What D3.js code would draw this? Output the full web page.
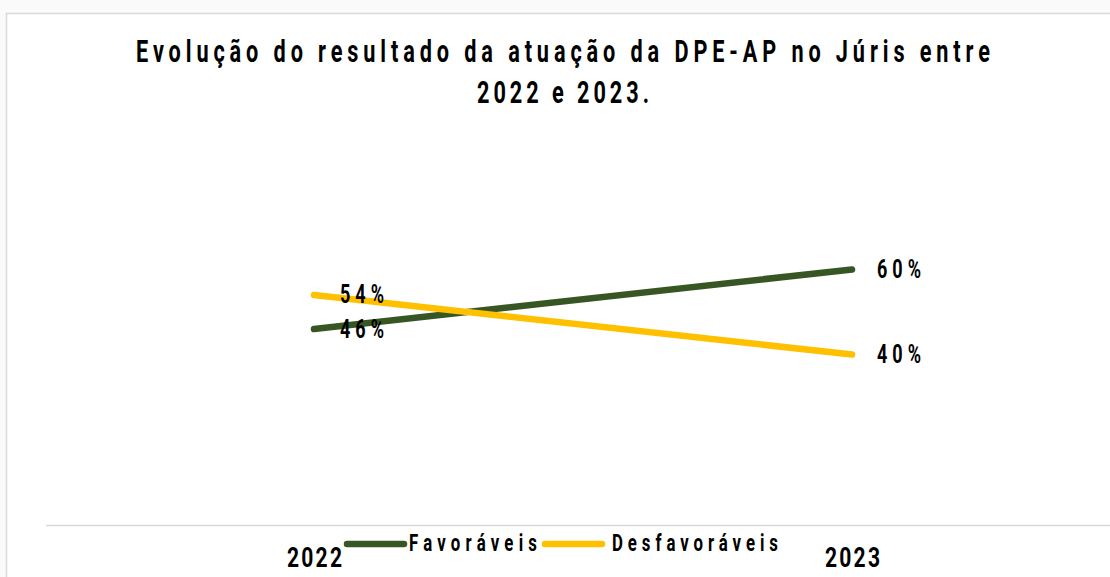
<!DOCTYPE html>
<html>
<head>
<meta charset="utf-8">
<script src="https://cdn.jsdelivr.net/npm/d3@7"></script>
<style>
  body { margin: 0; background: #fafafa; }
  svg { display: block; }
  text { font-family: Roboto, "DejaVu Sans", sans-serif; font-weight: bold; fill: #000; }
</style>
</head>
<body>
<svg id="chart" width="1110" height="577"></svg>
<script>
const years = ["2022", "2023"];
const favoraveis = [46, 60];
const desfavoraveis = [54, 40];
const seriesNames = ["Favoráveis", "Desfavoráveis"];
const colors = ["#375623", "#ffc000"];
const titleLines = ["Evolução do resultado da atuação da DPE-AP no Júris entre", "2022 e 2023."];

const width = 1110, height = 577;
const margin = {top: 99, right: 0, bottom: 52, left: 46};

// the original font is tall, narrow and widely spaced:
// squash glyphs horizontally and pick a letter spacing that gives the wanted width
function squeeze(sel, target, sx, centered) {
    sel.each(function(d, i) {
        const t = d3.select(this);
        const len = typeof target === "function" ? target(d, i) : target;
        const px = +t.attr("x") || 0, py = +t.attr("y") || 0;
        t.style("letter-spacing", "0px");
        const w0 = this.getComputedTextLength();
        const n = t.text().length;
        const ls = (len / sx - w0) / (n - 1);
        t.style("letter-spacing", ls + "px")
            .attr("x", centered ? ls / 2 : 0)
            .attr("y", null)
            .attr("transform", `translate(${px},${py}) scale(${sx},1)`);
    });
}

const svg = d3.select("#chart");

// chart area box
svg.append("rect")
    .attr("x", 6.5).attr("y", 13.5)
    .attr("width", width).attr("height", height)
    .attr("fill", "#fff")
    .attr("stroke", "#d9d9d9")
    .attr("stroke-width", 1.5);

const x = d3.scalePoint()
    .domain(years)
    .range([314, 852]);

const y = d3.scaleLinear()
    .domain([0, 100])
    .range([height - margin.bottom, margin.top]);

// title
svg.append("g")
    .selectAll("text")
    .data(titleLines)
    .join("text")
    .attr("x", 563)
    .attr("y", (d, i) => 62 + i * 41)
    .attr("text-anchor", "middle")
    .attr("font-size", 31)
    .text(d => d)
    .call(squeeze, (d, i) => i === 0 ? 854 : 172, 0.7, true);

// x axis
svg.append("line")
    .attr("x1", margin.left).attr("x2", width)
    .attr("y1", y(0) + 0.5).attr("y2", y(0) + 0.5)
    .attr("stroke", "#d9d9d9")
    .attr("stroke-width", 1.5);

svg.append("g")
    .attr("transform", `translate(0,${y(0)})`)
    .call(d3.axisBottom(x).tickSize(0))
    .call(g => g.select(".domain").remove())
    .call(g => g.selectAll(".tick text")
        .attr("font-size", 27)
        .attr("font-family", null)
        .attr("fill", "#000")
        .attr("dy", null)
        .attr("y", 567 - y(0))
        .call(squeeze, 55, 0.78, true));

const series = [favoraveis, desfavoraveis];

const line = d3.line()
    .x((d, i) => x(years[i]))
    .y(d => y(d));

svg.append("g")
    .selectAll("path")
    .data(series)
    .join("path")
    .attr("d", line)
    .attr("fill", "none")
    .attr("stroke", (d, i) => colors[i])
    .attr("stroke-width", 6.5)
    .attr("stroke-linecap", "round");

// data labels
const labels = [];
series.forEach((s, si) => s.forEach((v, i) => labels.push({v, i, si})));

svg.append("g")
    .selectAll("text")
    .data(labels)
    .join("text")
    .attr("x", d => x(years[d.i]) + (d.i === 0 ? 26 : 25))
    .attr("y", d => y(d.v) + 8.5)
    .attr("font-size", 25)
    .text(d => d.v + "%")
    .call(squeeze, 44, 0.72, false);

// legend
const legendX = [347, 545];
const legendTextLen = [128, 166];
const legend = svg.append("g")
    .selectAll("g")
    .data(seriesNames)
    .join("g")
    .attr("transform", (d, i) => `translate(${legendX[i]},544)`);

legend.append("line")
    .attr("x1", 0).attr("x2", 57)
    .attr("stroke", (d, i) => colors[i])
    .attr("stroke-width", 6.5)
    .attr("stroke-linecap", "round");

legend.append("text")
    .attr("x", (d, i) => i === 0 ? 62 : 67)
    .attr("y", 7)
    .attr("font-size", 24)
    .text(d => d)
    .call(squeeze, (d, i) => legendTextLen[i], 0.7, false);
</script>
</body>
</html>
